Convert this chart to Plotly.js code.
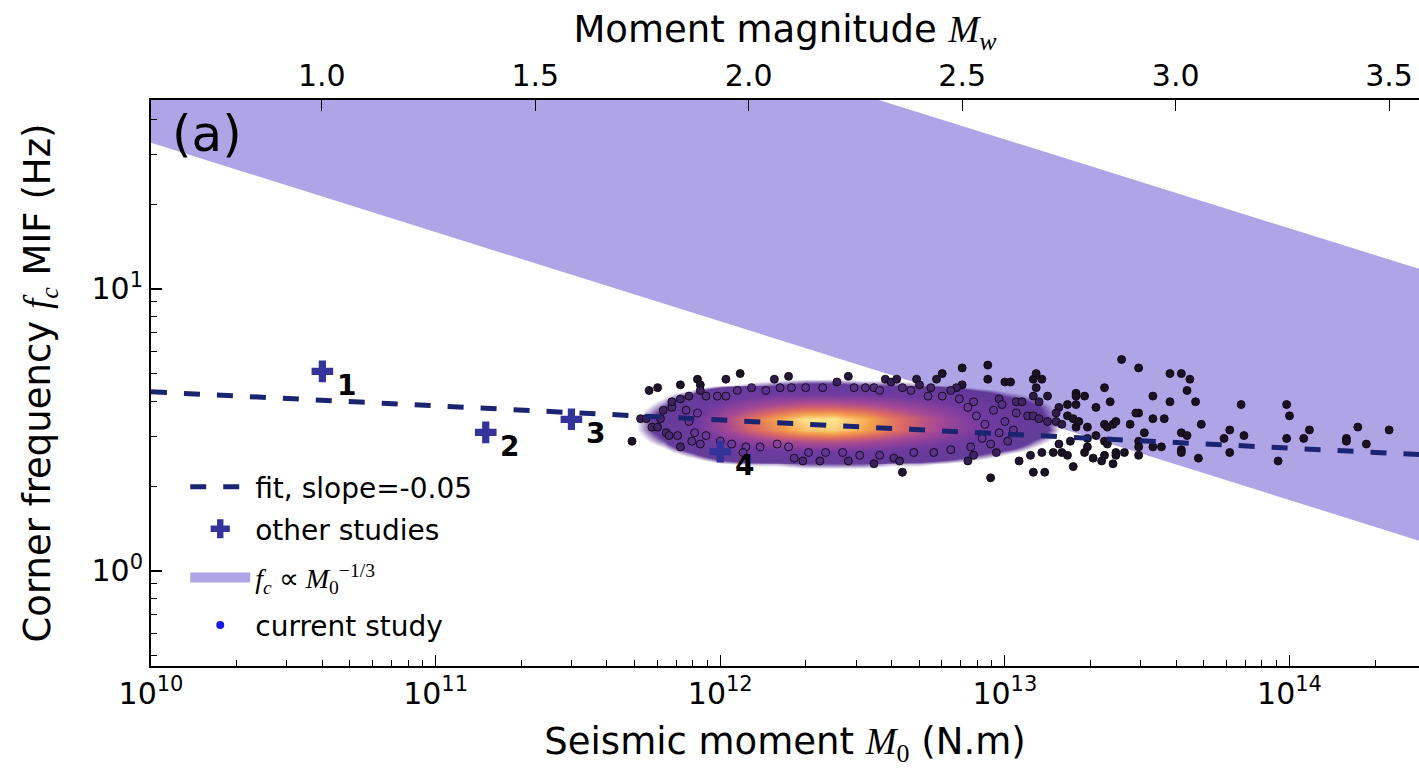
<!DOCTYPE html>
<html><head><meta charset="utf-8">
<script src="https://cdn.plot.ly/plotly-3.0.1.min.js"></script>
<style>html,body{margin:0;padding:0;background:#fff}#chart{width:1419px;height:768px}</style>
</head><body><div id="chart"></div>
<script>
// ---------------- data ----------------
const studyM0 = [4.0e10, 1.5e11, 3.0e11, 1.0e12];
const studyFc = [5.1, 3.1, 3.45, 2.65];
const studyLabels = ['1', '2', '3', '4'];

const fitM0 = [1e10, 3e14];
const fitFc = [4.32, 2.58];

const bandM0 = [1e10, 3e14];
const bandUpper = [300, 11.6];
const bandLower = [33, 1.26];

// estimated point density of the current-study cloud (log10 grid)
const coreLogM0 = [11.7, 11.8, 11.9, 12.0, 12.1, 12.2, 12.3, 12.4, 12.5, 12.6, 12.7, 12.8, 12.9, 13.0, 13.1, 13.2];
const coreLogFc = [0.70, 0.66, 0.62, 0.58, 0.54, 0.50, 0.46, 0.42, 0.38, 0.34];
const coreDensity = [
  [0, 0, 0, 0, 0, 0, 0, 0, 0, 0, 0, 0, 0, 0, 0, 0],
  [0, 0, 0, .02, .03, .04, .05, .05, .04, .04, .03, .02, 0, 0, 0, 0],
  [0, .02, .05, .12, .18, .22, .24, .24, .22, .20, .16, .12, .08, .04, .02, 0],
  [.01, .04, .10, .24, .36, .46, .52, .52, .48, .40, .32, .24, .16, .10, .05, .01],
  [.02, .06, .16, .36, .58, .78, .95, .96, .82, .64, .48, .34, .22, .13, .06, .02],
  [.02, .06, .15, .33, .52, .70, .86, .90, .78, .62, .47, .34, .23, .14, .07, .02],
  [.01, .04, .10, .20, .30, .38, .44, .46, .42, .36, .29, .22, .15, .09, .04, .01],
  [0, .01, .04, .08, .12, .14, .16, .16, .15, .13, .10, .08, .05, .03, .01, 0],
  [0, 0, 0, .02, .03, .03, .04, .04, .04, .03, .03, .02, .01, 0, 0, 0],
  [0, 0, 0, 0, 0, 0, 0, 0, 0, 0, 0, 0, 0, 0, 0, 0]
];

// individually visible events of the current study (log10 M0, log10 fc)
const currentLogM0 = [
  11.75,11.78,11.69,11.86,11.92,11.93,12.02,12.07,12.19,12.24,
  11.80,11.83,11.83,11.76,11.78,11.81,11.82,11.85,11.86,11.93,
  11.86,11.89,11.93,11.95,11.88,11.92,11.72,11.74,11.79,11.89,
  11.91,11.95,11.90,
  11.99,12.02,12.06,12.11,12.16,12.21,12.25,12.00,12.04,12.09,
  12.14,12.20,12.24,12.08,12.26,
  12.45,12.58,12.60,12.62,12.69,12.70,12.76,12.78,12.85,12.85,
  12.83,12.81,12.74,12.64,12.54,12.41,12.45,12.54,12.61,12.63,
  12.64,12.35,12.29,12.87,12.89,
  12.30,12.36,12.47,12.51,12.56,12.67,12.73,12.78,12.84,12.89,
  12.31,12.37,12.43,12.49,12.56,12.68,12.75,12.81,12.88,
  12.94,12.94,13.00,13.02,13.10,13.11,13.13,13.11,13.10,13.12,
  13.15,12.98,12.99,13.04,13.06,13.19,13.22,13.25,13.25,13.25,
  13.28,13.32,13.35,13.37,13.41,13.47,13.47,
  13.08,13.10,13.12,13.15,13.18,13.18,13.20,13.22,13.24,13.25,
  13.29,13.26,13.35,13.36,13.38,13.39,13.44,13.32,13.29,13.23,
  13.19,13.17,13.13,13.09,13.05,13.20,13.22,13.29,13.28,13.35,
  13.36,13.31,13.35,13.39,13.42,13.38,13.24,13.14,13.10,12.95,
  13.46,13.47,
  13.58,13.62,13.65,13.64,13.67,13.58,13.52,13.52,13.56,13.69,
  13.79,13.83,13.84,13.77,13.79,13.62,13.64,13.62,13.62,13.68,
  13.49,13.47,13.52,13.55,13.47,13.39,13.34,13.99,14.00,14.07,
  13.99,14.05,13.96,14.24,14.35,14.20,14.20,14.27,
  12.87,12.90,12.93,12.96,12.98,12.95,12.92,13.00,13.01,13.03,12.97,13.04
];
const currentLogFc = [
  0.64,0.65,0.46,0.66,0.68,0.66,0.68,0.70,0.68,0.69,
  0.57,0.58,0.60,0.51,0.51,0.49,0.48,0.48,0.44,0.45,
  0.61,0.62,0.64,0.62,0.57,0.56,0.54,0.54,0.54,0.53,
  0.49,0.48,0.46,
  0.62,0.62,0.64,0.65,0.64,0.65,0.65,0.46,0.45,0.44,
  0.44,0.45,0.44,0.42,0.40,
  0.69,0.68,0.67,0.68,0.68,0.66,0.68,0.70,0.72,0.66,
  0.65,0.64,0.65,0.65,0.65,0.67,0.39,0.38,0.40,0.39,
  0.35,0.39,0.39,0.39,0.41,
  0.65,0.65,0.65,0.65,0.64,0.64,0.62,0.62,0.61,0.60,
  0.42,0.42,0.42,0.41,0.41,0.42,0.42,0.43,0.44,
  0.73,0.68,0.67,0.67,0.68,0.70,0.68,0.65,0.62,0.60,
  0.62,0.61,0.59,0.60,0.60,0.58,0.59,0.63,0.62,0.59,
  0.62,0.58,0.65,0.60,0.75,0.72,0.56,
  0.55,0.55,0.54,0.53,0.56,0.53,0.52,0.55,0.54,0.51,
  0.51,0.53,0.52,0.51,0.52,0.53,0.52,0.48,0.47,0.46,
  0.45,0.42,0.42,0.41,0.39,0.42,0.41,0.44,0.42,0.46,
  0.45,0.40,0.41,0.42,0.42,0.38,0.37,0.35,0.35,0.33,
  0.56,0.46,
  0.70,0.70,0.68,0.64,0.60,0.60,0.62,0.54,0.54,0.52,
  0.50,0.59,0.48,0.47,0.42,0.49,0.48,0.43,0.42,0.40,
  0.49,0.44,0.44,0.44,0.41,0.41,0.39,0.59,0.55,0.50,
  0.47,0.47,0.39,0.51,0.50,0.47,0.46,0.45,
  0.58,0.55,0.52,0.57,0.49,0.45,0.47,0.53,0.46,0.50,0.42,0.56
];

const xTickVals = [1e10, 1e11, 1e12, 1e13, 1e14];
const xTickText = ['10<sup>10</sup>', '10<sup>11</sup>', '10<sup>12</sup>', '10<sup>13</sup>', '10<sup>14</sup>'];
const yTickVals = [1, 10];
const yTickText = ['10<sup>0</sup>', '10<sup>1</sup>'];

// ---------------- helpers ----------------
const xLogRange = [10, 14.455];
const yLogRange = [Math.log10(0.46), Math.log10(46.8)];
const mw = v => (2 / 3) * (v - 9.1);

function densityAt(lx, ly) {
  const xs = coreLogM0, ys = coreLogFc;
  if (lx < xs[0] || lx > xs[xs.length - 1] || ly > ys[0] || ly < ys[ys.length - 1]) return 0;
  let i = 0; while (i < xs.length - 2 && lx > xs[i + 1]) i++;
  let j = 0; while (j < ys.length - 2 && ly < ys[j + 1]) j++;
  const tx = (lx - xs[i]) / (xs[i + 1] - xs[i]);
  const ty = (ys[j] - ly) / (ys[j] - ys[j + 1]);
  const z = coreDensity;
  return (1 - tx) * (1 - ty) * z[j][i] + tx * (1 - ty) * z[j][i + 1] + (1 - tx) * ty * z[j + 1][i] + tx * ty * z[j + 1][i + 1];
}

const minorVals = (e0, e1) => { const a = []; for (let e = e0; e <= e1; e++) for (let d = 2; d <= 9; d++) a.push(d * Math.pow(10, e)); return a; };

const coreColors = [
  [0, 'rgba(92,50,148,0)'], [0.024, 'rgba(92,50,148,0)'], [0.045, 'rgba(92,50,148,0.95)'],
  [0.2, 'rgb(112,58,160)'], [0.4, 'rgb(165,72,150)'], [0.6, 'rgb(220,105,100)'],
  [0.8, 'rgb(245,160,75)'], [1, 'rgb(252,228,140)']
];
const dotColors = [
  [0, 'rgb(26,18,34)'], [0.03, 'rgb(55,30,85)'], [0.1, 'rgb(92,50,140)'], [0.25, 'rgb(115,58,160)'],
  [0.45, 'rgb(170,72,148)'], [0.7, 'rgb(230,120,90)'], [1, 'rgb(252,228,140)']
];

const rowsAsc = coreLogFc.map((v, k) => k).reverse();

const navy = '#1b2470';
const bandColor = 'rgb(175,165,230)';
const traces = [
  { // theoretical band (main subplot, below everything)
    x: bandM0.concat(bandM0.slice().reverse()),
    y: bandUpper.concat(bandLower.slice().reverse()),
    xaxis: 'x', yaxis: 'y', mode: 'none', fill: 'toself',
    fillcolor: bandColor, showlegend: false, hoverinfo: 'skip'
  },
  { // top magnitude axis carrier
    x: [null], y: [null], xaxis: 'x2', yaxis: 'y', mode: 'markers', showlegend: false, hoverinfo: 'skip'
  },
  { // dense cloud
    type: 'heatmap', xaxis: 'x3', yaxis: 'y3',
    x: coreLogM0.map(v => Math.pow(10, v)),
    y: rowsAsc.map(k => Math.pow(10, coreLogFc[k])),
    z: rowsAsc.map(k => coreDensity[k]),
    zsmooth: 'best', zmin: 0, zmax: 0.95, colorscale: coreColors, showscale: false, hoverinfo: 'skip'
  },
  { // individual events
    x: currentLogM0.map(v => Math.pow(10, v)),
    y: currentLogFc.map(v => Math.pow(10, v)),
    xaxis: 'x3', yaxis: 'y3', mode: 'markers', showlegend: false, hoverinfo: 'skip',
    marker: {
      size: 8, color: currentLogM0.map((v, k) => densityAt(v, currentLogFc[k])),
      cmin: 0, cmax: 0.95, colorscale: dotColors, showscale: false,
      line: { width: 1, color: 'rgba(8,4,12,0.85)' }
    }
  },
  { // fit
    x: fitM0, y: fitFc, xaxis: 'x3', yaxis: 'y3', mode: 'lines',
    line: { color: navy, width: 5, dash: '16px,17px' },
    name: 'fit, slope=-0.05', legend: 'legend', hoverinfo: 'skip'
  },
  { // other studies
    x: studyM0, y: studyFc, xaxis: 'x3', yaxis: 'y3', mode: 'markers',
    marker: { symbol: 'cross', size: 18, color: '#34339a', line: { width: 0 } },
    name: 'other studies', legend: 'legend2', hoverinfo: 'skip'
  },
  { // legend entry for the band
    x: [null], y: [null], xaxis: 'x', yaxis: 'y', mode: 'lines',
    line: { color: bandColor, width: 23 },
    name: '<span style="font-family:Liberation Serif"><i>f</i><sub><i>c</i></sub> ∝ <i>M</i><sub>0</sub><sup>−1/3</sup></span>',
    legend: 'legend3', hoverinfo: 'skip'
  },
  { // legend entry for current study
    x: [null], y: [null], xaxis: 'x3', yaxis: 'y3', mode: 'markers',
    marker: { size: 8, color: '#1a1ae6' }, name: 'current study', legend: 'legend4'
  }
];

const axisCommon = {
  showline: true, linecolor: '#000', linewidth: 2, showgrid: false, zeroline: false,
  ticks: 'inside', ticklen: 11, tickwidth: 1.2, tickcolor: '#000',
  tickfont: { family: 'DejaVu Sans', size: 30, color: '#000' }
};

const annotations = [{
  xref: 'paper', yref: 'paper', x: 0.015, y: 0.995, xanchor: 'left', yanchor: 'top',
  text: '(a)', showarrow: false, font: { family: 'DejaVu Sans', size: 50, color: '#000' }
}].concat(studyLabels.map((t, k) => ({
  xref: 'x', yref: 'y', x: Math.log10(studyM0[k]), y: Math.log10(studyFc[k]),
  text: '<b>' + t + '</b>', showarrow: false, xshift: 24, yshift: -14,
  font: { family: 'DejaVu Sans', size: 28, color: '#000' }
})));

const legendBase = {
  x: 0.027, xanchor: 'left', yanchor: 'middle', bgcolor: 'rgba(0,0,0,0)', borderwidth: 0,
  font: { family: 'DejaVu Sans', size: 28, color: '#000' }, itemwidth: 60
};

const layout = {
  width: 1419, height: 768,
  margin: { l: 151, r: 0, t: 100, b: 102, pad: 0 },
  paper_bgcolor: '#fff', plot_bgcolor: '#fff',
  font: { family: 'DejaVu Sans', color: '#000', size: 30 },
  showlegend: true,
  legend: Object.assign({}, legendBase, { y: 0.316 }),
  legend2: Object.assign({}, legendBase, { y: 0.242 }),
  legend3: Object.assign({}, legendBase, { y: 0.156 }),
  legend4: Object.assign({}, legendBase, { y: 0.072 }),
  xaxis: Object.assign({}, axisCommon, {
    type: 'log', range: xLogRange, tickmode: 'array', tickvals: xTickVals, ticktext: xTickText,
    minor: { ticks: 'inside', ticklen: 6, tickwidth: 1, tickcolor: '#000', tickmode: 'array', tickvals: minorVals(10, 14) },
    title: { text: 'Seismic moment <span style="font-family:Liberation Serif"><i>M</i><sub>0</sub></span> (N.m)', font: { family: 'DejaVu Sans', size: 37 }, standoff: 18 }
  }),
  xaxis2: Object.assign({}, axisCommon, {
    overlaying: 'x', anchor: 'y', side: 'top', range: xLogRange.map(mw),
    tickmode: 'linear', tick0: 0, dtick: 0.5, tickformat: '.1f',
    title: { text: 'Moment magnitude <span style="font-family:Liberation Serif"><i>M</i><sub><i>w</i></sub></span>', font: { family: 'DejaVu Sans', size: 37 }, standoff: 4 }
  }),
  yaxis: Object.assign({}, axisCommon, {
    type: 'log', range: yLogRange, tickmode: 'array', tickvals: yTickVals, ticktext: yTickText,
    minor: { ticks: 'inside', ticklen: 6, tickwidth: 1, tickcolor: '#000', tickmode: 'array', tickvals: minorVals(-1, 1) },
    title: { text: 'Corner frequency <span style="font-family:Liberation Serif"><i>f</i><sub><i>c</i></sub></span> MIF (Hz)', font: { family: 'DejaVu Sans', size: 37 }, standoff: 29 }
  }),
  xaxis3: { overlaying: 'x', anchor: 'y3', type: 'log', range: xLogRange, visible: false, showgrid: false, zeroline: false },
  yaxis3: { overlaying: 'y', anchor: 'x3', type: 'log', range: yLogRange, visible: false, showgrid: false, zeroline: false },
  annotations: annotations
};

Plotly.newPlot('chart', traces, layout, { displayModeBar: false, staticPlot: true });
</script>
</body></html>
